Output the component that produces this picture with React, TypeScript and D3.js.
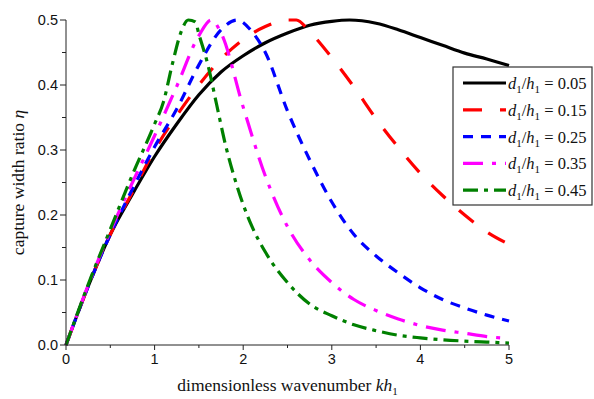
import React from "react";
import * as d3 from "d3";

// kh1 sample points and capture width ratio for each depth ratio d1/h1
const ratioLabels = ["0.05", "0.15", "0.25", "0.35", "0.45"];

const curve005: [number, number][] = [
  [0, 0], [0.25, 0.09], [0.5, 0.17], [0.75, 0.232], [1, 0.29], [1.25, 0.34],
  [1.5, 0.385], [1.75, 0.42], [2, 0.445], [2.25, 0.465], [2.5, 0.48],
  [2.75, 0.492], [3, 0.498], [3.2, 0.5], [3.5, 0.495], [3.75, 0.485],
  [4, 0.473], [4.25, 0.461], [4.5, 0.449], [4.75, 0.44], [5, 0.43],
];
const curve015: [number, number][] = [
  [0, 0], [0.25, 0.09], [0.5, 0.17], [0.75, 0.235], [1, 0.3], [1.25, 0.353],
  [1.5, 0.4], [1.75, 0.44], [2, 0.47], [2.25, 0.49], [2.5, 0.5], [2.6, 0.5],
  [2.75, 0.482], [3, 0.442], [3.25, 0.397], [3.5, 0.348], [3.75, 0.304],
  [4, 0.264], [4.25, 0.23], [4.5, 0.2], [4.75, 0.174], [5, 0.155],
];
const curve025: [number, number][] = [
  [0, 0], [0.25, 0.09], [0.5, 0.17], [0.75, 0.24], [1, 0.305], [1.25, 0.363],
  [1.5, 0.431], [1.75, 0.485], [1.93, 0.5], [2.1, 0.482], [2.25, 0.45],
  [2.5, 0.36], [2.75, 0.285], [3, 0.22], [3.25, 0.17], [3.5, 0.137],
  [3.75, 0.111], [4, 0.088], [4.25, 0.07], [4.5, 0.057], [4.75, 0.046], [5, 0.037],
];
const curve035: [number, number][] = [
  [0, 0], [0.25, 0.092], [0.5, 0.175], [0.75, 0.25], [1, 0.322], [1.25, 0.398],
  [1.5, 0.476], [1.64, 0.5], [1.75, 0.48], [2, 0.366], [2.25, 0.26],
  [2.5, 0.182], [2.75, 0.131], [3, 0.096], [3.25, 0.07], [3.5, 0.053],
  [3.75, 0.04], [4, 0.03], [4.25, 0.023], [4.5, 0.018], [4.75, 0.013], [5, 0.01],
];
const curve045: [number, number][] = [
  [0, 0], [0.25, 0.093], [0.5, 0.178], [0.75, 0.262], [1, 0.34], [1.1, 0.374],
  [1.2, 0.432], [1.3, 0.482], [1.38, 0.5], [1.46, 0.497], [1.5, 0.478],
  [1.6, 0.432], [1.7, 0.37], [1.8, 0.308], [1.9, 0.258], [2, 0.216],
  [2.1, 0.182], [2.25, 0.143], [2.5, 0.096], [2.75, 0.063], [3, 0.045],
  [3.25, 0.031], [3.5, 0.022], [3.75, 0.015], [4, 0.011], [4.25, 0.008],
  [4.5, 0.006], [4.75, 0.0045], [5, 0.003],
];

const seriesData = [curve005, curve015, curve025, curve035, curve045];
const seriesColors = ["#000000", "#ff0000", "#0000ff", "#ff00ff", "#008000"];
const seriesDash = ["none", "19 18", "10 8", "20 9 4 9", "15 6 4 6"];

const xTicks = [0, 1, 2, 3, 4, 5];
const xMinor = [0.5, 1.5, 2.5, 3.5, 4.5];
const yTicks = [0, 0.1, 0.2, 0.3, 0.4, 0.5];
const yMinor = [0.05, 0.15, 0.25, 0.35, 0.45];

const W = 594;
const H = 399;
const left = 66;
const right = 509;
const top = 20;
const bottom = 345;

const serif = "'Liberation Serif', 'Times New Roman', serif";
const sans = "'Liberation Sans', Arial, sans-serif";

export default function App() {
  const x = d3.scaleLinear().domain([0, 5]).range([left, right]);
  const y = d3.scaleLinear().domain([0, 0.5]).range([bottom, top]);
  const line = d3
    .line<[number, number]>()
    .x((d) => x(d[0]))
    .y((d) => y(d[1]))
    .curve(d3.curveMonotoneX);

  const legX = 453;
  const legY = 67;
  const legW = 139;
  const legH = 138;
  const rowY0 = 83;
  const rowStep = 26.8;

  return (
    <div style={{ position: "fixed", left: 0, top: 0 }}>
      <svg width={W} height={H} style={{ display: "block", background: "#fff" }}>
        {/* curves */}
        {seriesData.map((s, i) => (
          <path
            key={i}
            d={line(s) || ""}
            fill="none"
            stroke={seriesColors[i]}
            strokeWidth={3.2}
            strokeDasharray={seriesDash[i]}
          />
        ))}

        {/* axes */}
        <line x1={left} x2={right} y1={bottom} y2={bottom} stroke="#222" strokeWidth={1} />
        <line x1={left} x2={left} y1={top} y2={bottom} stroke="#222" strokeWidth={1} />
        {xTicks.map((t) => (
          <g key={"xt" + t}>
            <line x1={x(t)} x2={x(t)} y1={bottom} y2={bottom + 5} stroke="#222" />
            <text x={x(t)} y={bottom + 19} textAnchor="middle" fontFamily={sans} fontSize={14.5} fill="#111">
              {String(t)}
            </text>
          </g>
        ))}
        {xMinor.map((t) => (
          <line key={"xm" + t} x1={x(t)} x2={x(t)} y1={bottom} y2={bottom + 3} stroke="#222" />
        ))}
        {yTicks.map((t) => (
          <g key={"yt" + t}>
            <line x1={left - 6} x2={left} y1={y(t)} y2={y(t)} stroke="#222" />
            <text x={left - 8} y={y(t) + 5} textAnchor="end" fontFamily={sans} fontSize={14.5} fill="#111">
              {d3.format(".1f")(t)}
            </text>
          </g>
        ))}
        {yMinor.map((t) => (
          <line key={"ym" + t} x1={left - 4} x2={left} y1={y(t)} y2={y(t)} stroke="#222" />
        ))}

        {/* axis titles */}
        <text x={(left + right) / 2} y={391} textAnchor="middle" fontFamily={serif} fontSize={17.5} fill="#111">
          dimensionless wavenumber <tspan fontStyle="italic">kh</tspan>
          <tspan dy={4} fontSize={11}>1</tspan>
        </text>
        <text
          transform={`translate(24, ${(top + bottom) / 2}) rotate(-90)`}
          textAnchor="middle"
          fontFamily={serif}
          fontSize={17.5}
          fill="#111"
        >
          capture width ratio <tspan fontStyle="italic">η</tspan>
        </text>

        {/* legend */}
        <rect x={legX} y={legY} width={legW} height={legH} fill="#fff" stroke="#333" strokeWidth={1.2} />
        {ratioLabels.map((lab, i) => {
          const ry = rowY0 + i * rowStep;
          return (
            <g key={"lg" + i}>
              <line
                x1={463}
                x2={506}
                y1={ry}
                y2={ry}
                stroke={seriesColors[i]}
                strokeWidth={3.2}
                strokeDasharray={seriesDash[i]}
              />
              <text x={508} y={ry + 6} fontFamily={serif} fontSize={16.5} fill="#111" style={{ whiteSpace: "pre" }}>
                <tspan fontStyle="italic">d</tspan>
                <tspan dy={4} fontSize={11}>1</tspan>
                <tspan dy={-4}>/</tspan>
                <tspan fontStyle="italic">h</tspan>
                <tspan dy={4} fontSize={11}>1</tspan>
                <tspan dy={-4}>{" = " + lab}</tspan>
              </text>
            </g>
          );
        })}
      </svg>
    </div>
  );
}
